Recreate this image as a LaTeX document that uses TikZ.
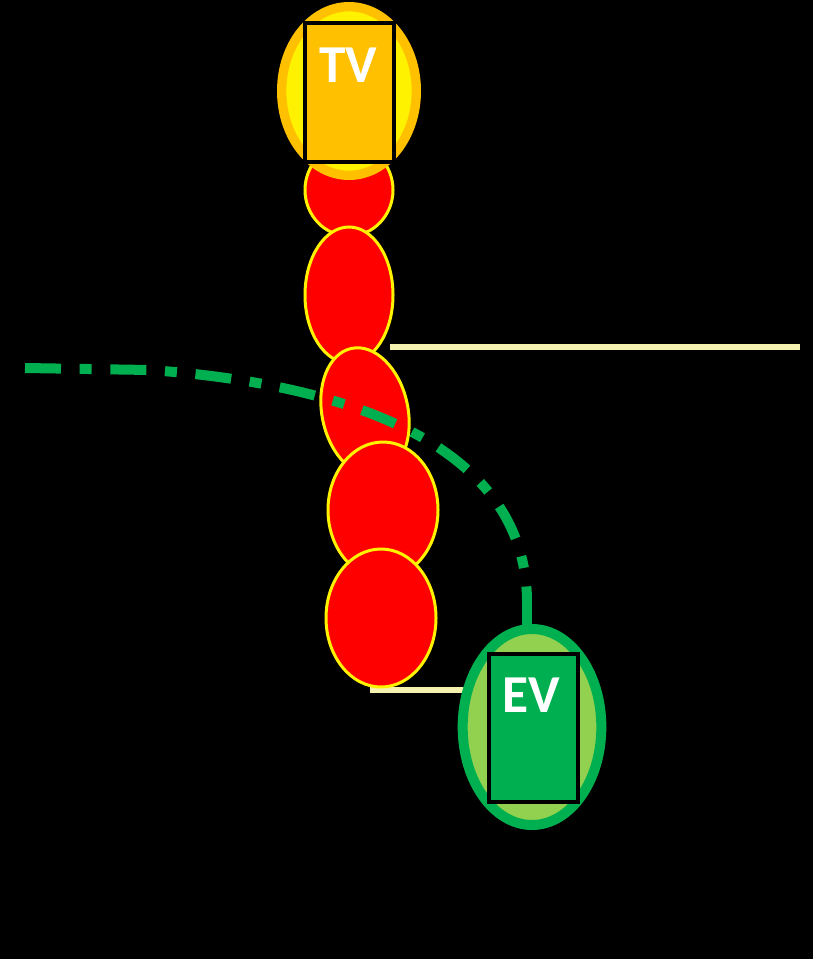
\documentclass[tikz,border=0pt]{standalone}
\usepackage{fontspec}
\setmainfont{Carlito}
\definecolor{tvorange}{RGB}{255,192,0}
\definecolor{evgreen}{RGB}{0,176,80}
\definecolor{evlight}{RGB}{146,208,80}
\definecolor{pale}{RGB}{245,242,175}
\tikzset{
  redcell/.style={fill=red,draw=yellow,line width=2.25pt},
  palebar/.style={draw=pale,line width=4.5pt},
  label/.style={text=white,font=\fontsize{40}{40}\selectfont\bfseries,inner sep=0pt},
  route/.style={draw=evgreen,line width=7.5pt,dash pattern=on 27pt off 14pt on 9pt off 14pt}
}
\begin{document}
\begin{tikzpicture}[x=0.75pt,y=-0.75pt]
\fill[black] (0,0) rectangle (813,959);
\useasboundingbox (0,0) rectangle (813,959);
% pale bars
\draw[palebar] (390,347) -- (800,347);
\draw[palebar] (370,690) -- (465,690);
% red chain
\draw[redcell] (349,190) ellipse [x radius=33pt, y radius=34.5pt];
\draw[redcell] (349,295) ellipse [x radius=33pt, y radius=51pt];
\draw[redcell,rotate around={12:(365,412)}] (365,412) ellipse [x radius=32.25pt, y radius=48.75pt];
\draw[redcell] (383,510) ellipse [x radius=41.25pt, y radius=51pt];
\draw[redcell] (381,618) ellipse [x radius=41.25pt, y radius=51.75pt];
% TV
\draw[fill=yellow,draw=tvorange,line width=7pt] (349,91) ellipse [x radius=50.5pt, y radius=63.25pt];
\draw[fill=tvorange,draw=black,line width=2.5pt] (305,23) rectangle (394,162);
\node[label] (tv) at (348,65) {TV};
% EV
\draw[fill=evlight,draw=evgreen,line width=7.5pt] (532,727) ellipse [x radius=52pt, y radius=73.5pt];
\draw[fill=evgreen,draw=black,line width=2.5pt] (489,654) rectangle (578,802);
\node[label] (ev) at (531,695) {EV};
\coordinate (start) at (25,368);
\coordinate (bend) at (150,370);
\coordinate (stubtop) at (527,600);
\coordinate (evtop) at (527,628);
% route
\draw[route] (start) -- (bend) .. controls (360,385) and (525,450) .. (stubtop);
\draw[evgreen,line width=7.5pt] (stubtop) -- (evtop);
\end{tikzpicture}
\end{document}
